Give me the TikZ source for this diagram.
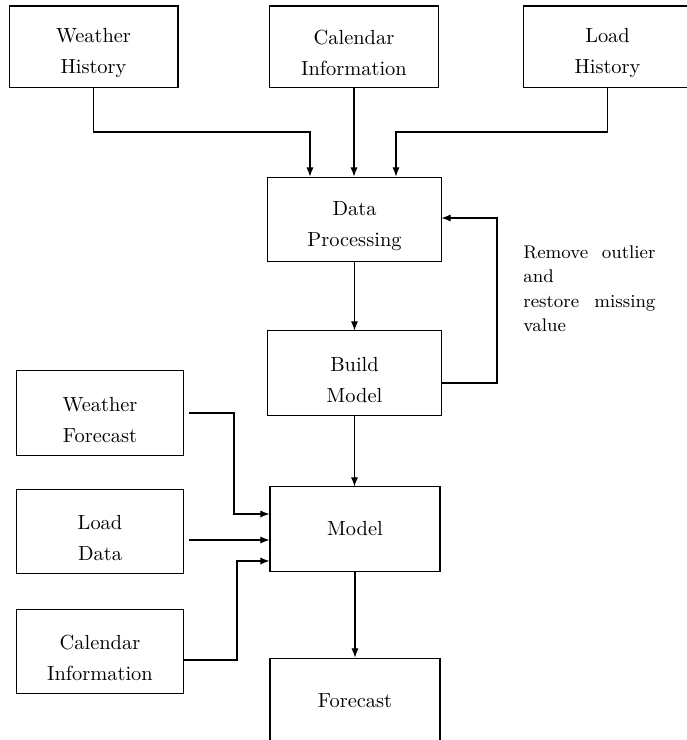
\documentclass[tikz,border=0pt]{standalone}
\usetikzlibrary{arrows.meta}
% taller first line so two-line labels sit a little low in their boxes
\newcommand\toplinestrut{\rule{0pt}{13.6pt}}
\begin{document}
\begin{tikzpicture}[x=0.49pt,y=-0.49pt,
  box/.style={draw,line width=0.5pt,align=center,inner sep=0pt,
    font=\fontsize{10}{15.2}\selectfont},
  flow/.style={line width=0.5pt,-{Latex[length=4.5pt,width=3.5pt]}},
  note/.style={anchor=north west,inner sep=0pt,text width=64.7pt,align=left,
    font=\fontsize{9}{12}\selectfont}]
\useasboundingbox (0,0) rectangle (686,740);

% input sources
\node[box,minimum width=82.8pt,minimum height=39.7pt] (wh) at (93.5,46.5) {\toplinestrut Weather\\History};
\node[box,minimum width=82.8pt,minimum height=39.7pt] (ci) at (354,46.5) {\toplinestrut Calendar\\Information};
\node[box,minimum width=82.8pt,minimum height=39.7pt] (lh) at (607.5,46.5) {\toplinestrut Load\\History};

% training chain
\node[box,minimum width=84.8pt,minimum height=41.6pt] (dp) at (354.5,219.5) {\toplinestrut Data\\Processing};
\node[box,minimum width=84.8pt,minimum height=41.2pt] (bm) at (354.5,373) {\toplinestrut Build\\Model};

% forecasting inputs
\node[box,minimum width=82.3pt,minimum height=41.2pt] (wf) at (100,413) {\toplinestrut Weather\\Forecast};
\node[box,minimum width=82.3pt,minimum height=41.6pt] (ld) at (100,531.5) {\toplinestrut Load\\Data};
\node[box,minimum width=82.3pt,minimum height=41.6pt] (ci2) at (100,651.5) {\toplinestrut Calendar\\Information};

% model and output
\node[box,minimum width=83.3pt,minimum height=41.2pt] (model) at (355,529) {Model};
\node[box,minimum width=83.3pt,minimum height=41.6pt] (fc) at (355,700.5) {Forecast};

% feedback note
\node[note] (nt) at (523,245) {Remove\hfill outlier\\and\\restore\hfill missing\\value};

% routing points
\coordinate (j1) at (310,132);
\coordinate (j2) at (396,132);
\coordinate (fb1) at (497,383);
\coordinate (fb2) at (497,218);
\coordinate (m1) at (234,514);
\coordinate (m2) at (188,540);
\coordinate (m3) at (237,561);
\coordinate (m3b) at (237,660);

% connectors into data processing
\draw[flow] (wh.south) |- (j1) -- (j1 |- dp.north);
\draw[flow] (ci.south) -- (ci.south |- dp.north);
\draw[flow] (lh.south) |- (j2) -- (j2 |- dp.north);

% training flow and feedback loop
\draw[flow] (dp.south) -- (dp.south |- bm.north);
\draw[flow] (fb1 -| bm.east) -- (fb1) -- (fb2) -- (fb2 -| dp.east);
\draw[flow] (bm.south) -- (bm.south |- model.north);

% inputs to the model
\draw[flow,shorten <=2pt] (wf.east) -| (m1) -- (m1 -| model.west);
\draw[flow,shorten <=2pt] (m2 -| ld.east) -- (m2 -| model.west);
\draw[flow] (m3b -| ci2.east) -- (m3b) -- (m3) -- (m3 -| model.west);

% output
\draw[flow] (model.south) -- (model.south |- fc.north);
\end{tikzpicture}
\end{document}
